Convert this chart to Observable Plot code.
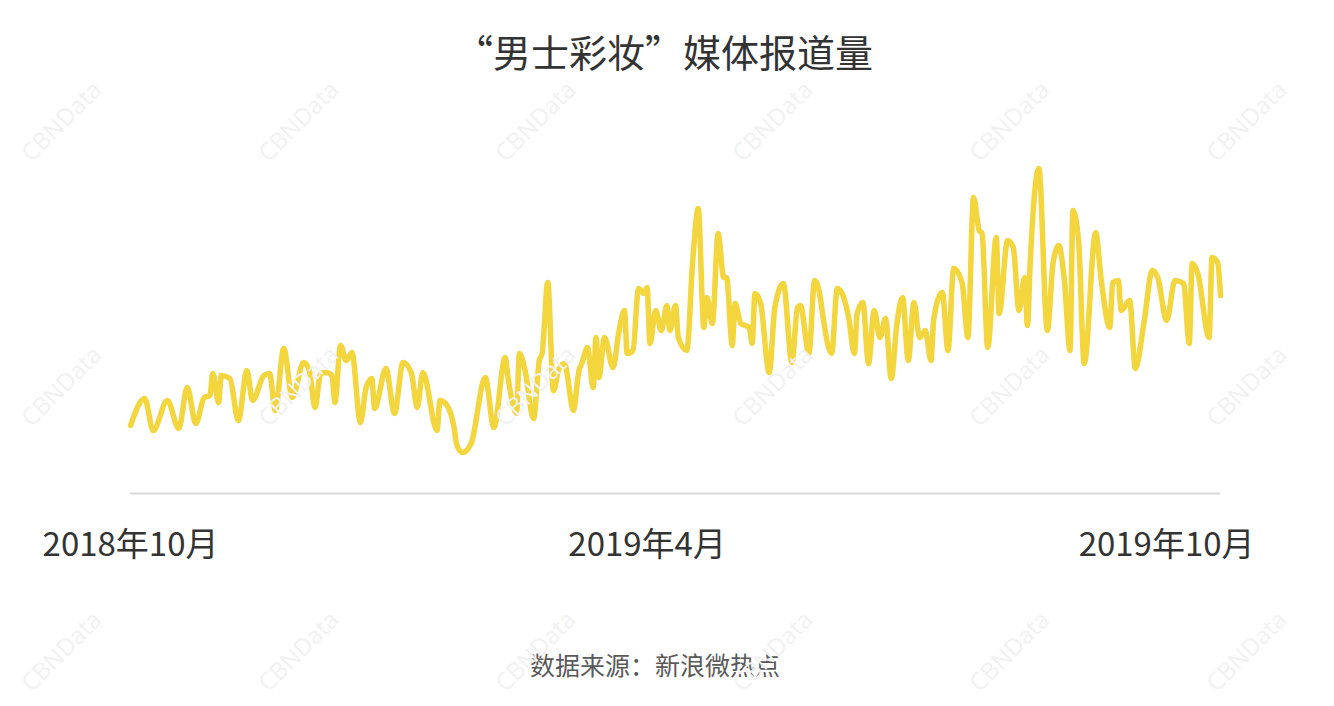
<!DOCTYPE html>
<html>
<head>
<meta charset="utf-8">
<script src="https://cdn.jsdelivr.net/npm/d3@7"></script>
<script src="https://cdn.jsdelivr.net/npm/@observablehq/plot@0.6"></script>
<style>
  html, body { margin: 0; padding: 0; background: #fff; }
  body { width: 1334px; height: 706px; position: relative; overflow: hidden;
         font-family: "Noto Sans CJK SC", "Noto Sans", sans-serif; }
  #title { height: 100px; display: flex; align-items: center; justify-content: center;
           font-size: 38px; color: #333; letter-spacing: 0px; padding-right: 6px; }
  #chart { height: 500px; }
  #caption { position: absolute; top: 649px; left: -12px; width: 1334px; text-align: center;
             font-size: 25px; color: #595959; line-height: 30px; }
  .wm { position: absolute; font-family: "Open Sans", sans-serif; font-size: 24px;
        color: #f1f1f1; transform: rotate(-45deg); transform-origin: center; pointer-events: none; }
</style>
</head>
<body>
<div id="title">“男士彩妆”媒体报道量</div>
<div id="chart"></div>
<div id="caption">数据来源：新浪微热点</div>
<script>
// Days since 2018-10-01 for each read point
const days = [0,5,8,13,17,20,23,26,28,29,31,32,35,38,41,43,47,49,51,54,57,61,63,65,67,69,71,72,74,76,78,81,83,85,86,90,93,96,99,101,103,108,109,111,114,115,117,120,125,128,132,133,136,137,139,142,144,145,147,149,151,153,154,156,158,159,161,163,164,165,167,170,172,174,175,177,179,181,182,183,185,187,189,190,192,193,196,198,200,202,203,205,207,209,210,212,213,215,218,219,220,222,225,227,230,233,235,236,239,241,243,244,247,249,251,253,255,256,258,260,262,264,266,268,270,272,274,276,278,280,282,283,286,288,290,293,295,297,299,300,302,305,306,309,311,313,315,316,317,320,323,325,327,329,331,332,334,336,340,342,345,346,348,349,352,354,357,360,362,365,368,371,373,374,376,380,381,383,384];
// Media report volume (estimated)
const counts = [680,950,630,930,650,1060,700,960,980,1200,910,1180,1150,730,1230,930,1180,1200,830,1450,960,1310,1230,860,1200,1210,1180,910,1480,1330,1410,710,1060,1150,850,1250,800,1310,1200,860,1210,630,930,900,660,480,410,500,1160,660,1360,1160,800,1400,1230,750,1330,1400,2110,1030,1250,1300,1160,830,1230,1300,1460,1060,1560,1160,1560,1260,1610,1830,1400,1430,2050,2000,2060,1500,1830,1630,1880,1630,1880,1560,1430,2300,2850,1660,1960,1700,2600,2160,2160,1480,1900,1700,1660,1500,2000,1900,1210,1860,2100,1310,1860,1880,1400,2130,1960,1760,1400,2050,1980,1760,1400,1800,1910,1300,1830,1560,1750,1150,1700,1960,1330,1910,1560,1630,1330,1750,2010,1430,2250,2100,1560,2960,2630,2600,1460,2560,1800,2530,2460,1830,2160,1680,2330,3250,1630,2300,2480,2130,1430,2830,2530,1300,2610,2130,1660,2110,2130,1830,1930,1250,1700,2230,2150,1730,2130,2100,1500,2300,2200,1560,2360,2310,1980];
const tickDates = ["2018-10-01", "2019-04-01", "2019-10-01"];
const tickLabels = ["2018年10月", "2019年4月", "2019年10月"];

const data = days.map((d, i) => ({ date: new Date(Date.UTC(2018, 9, 1 + d)), count: counts[i] }));
const ticks = tickDates.map(s => new Date(s + "T00:00:00Z"));

const chart = Plot.plot({
  width: 1334,
  height: 500,
  marginLeft: 130,
  marginRight: 114,
  marginTop: 63,
  marginBottom: 107,
  style: { fontFamily: '"Noto Sans CJK SC", "Noto Sans", sans-serif', background: "transparent", color: "#333" },
  x: { type: "utc", domain: [new Date(Date.UTC(2018, 9, 1)), new Date(Date.UTC(2019, 9, 20))] },
  y: { domain: [0, 3300], axis: null },
  marks: [
    Plot.ruleY([0], { stroke: "#d9d9d9", strokeWidth: 2 }),
    Plot.lineY(data, { x: "date", y: "count", stroke: "#F3D53E", strokeWidth: 5.5, curve: "monotone-x", strokeLinejoin: "round" }),
    Plot.axisX({ ticks: ticks, tickFormat: (d, i) => tickLabels[i], tickSize: 0, tickPadding: 39, fontSize: 33, label: null, fill: "#333" })
  ]
});
document.getElementById("chart").appendChild(chart);

// faint watermarks
const wmX = [60, 297, 534, 771, 1008, 1245];
const wmY = [120, 385, 650];
for (const y of wmY) for (const x of wmX) {
  const el = document.createElement("div");
  el.className = "wm";
  el.textContent = "CBNData";
  document.body.appendChild(el);
  const w = el.offsetWidth, h = el.offsetHeight;
  el.style.left = (x - w / 2) + "px";
  el.style.top = (y - h / 2) + "px";
}
</script>
</body>
</html>
